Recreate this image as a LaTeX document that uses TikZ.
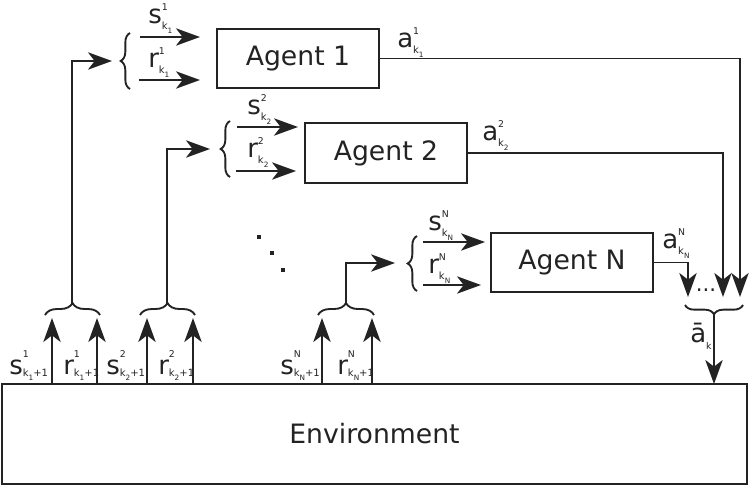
\documentclass[tikz,border=0pt]{standalone}
\usepackage{fontspec}
\setmainfont{DejaVu Sans}
\usetikzlibrary{arrows.meta,decorations.pathreplacing}
\newcommand\lb[3]{#1\rlap{\raisebox{0.48em}{\fontsize{7}{8}\selectfont #2}}\raisebox{-0.25em}{\fontsize{7.5}{8}\selectfont #3}}
\newcommand\lbb[3]{#1\rlap{\raisebox{0.62em}{\fontsize{7}{8}\selectfont #2}}\raisebox{-0.1em}{\fontsize{7.5}{8}\selectfont #3}}
\newcommand\kk[1]{k\raisebox{-0.35em}{\fontsize{5.5}{6}\selectfont #1}}
\definecolor{ink}{RGB}{35,35,35}
\tikzset{
  box/.style={draw=ink,line width=1.4pt,inner sep=0pt,font=\fontsize{20}{24}\selectfont,text=ink},
  lab/.style={anchor=base west,inner sep=0pt,font=\fontsize{19.5}{22}\selectfont,text=ink},
  ln/.style={draw=ink,line width=1.4pt},
  arr/.style={ln,-{Stealth[length=18pt,width=13pt,inset=5pt]}},
  brc/.style={ln,decorate,decoration={brace,amplitude=#1}},
  dotsq/.style={fill=ink,minimum size=3.5pt,inner sep=0pt}
}
\begin{document}
\begin{tikzpicture}[x=0.75pt,y=-0.75pt]
\path[use as bounding box] (0,0) rectangle (749,486);
% boxes
\node[box,minimum width=558.75pt,minimum height=75pt] (env) at (374.5,434) {Environment};
\node[box,minimum width=121.5pt,minimum height=44.25pt] (A1) at (298,58.5) {Agent 1};
\node[box,minimum width=121.5pt,minimum height=45pt] (A2) at (386,153) {Agent 2};
\node[box,minimum width=121.5pt,minimum height=44.25pt] (AN) at (572,262.5) {Agent N};
% coordinates
\coordinate (s1a) at (140,37); \coordinate (s1b) at (200,37);
\coordinate (r1a) at (139,80); \coordinate (r1b) at (200,80);
\coordinate (br1a) at (130,89); \coordinate (br1b) at (130,33);
\coordinate (in1) at (112,61);
\coordinate (s2a) at (237,127); \coordinate (s2b) at (298,127);
\coordinate (r2a) at (236,171); \coordinate (r2b) at (296,171);
\coordinate (br2a) at (230,177); \coordinate (br2b) at (230,121);
\coordinate (in2) at (210,149);
\coordinate (sNa) at (423,242); \coordinate (sNb) at (485,242);
\coordinate (rNa) at (423,285); \coordinate (rNb) at (481,285);
\coordinate (brNa) at (417,291); \coordinate (brNb) at (417,236);
\coordinate (inN) at (395,263);
% input arrows
\draw[arr] (s1a) -- (s1b); \draw[arr] (r1a) -- (r1b);
\draw[brc=7pt] (br1a) -- (br1b);
\draw[arr] (s2a) -- (s2b); \draw[arr] (r2a) -- (r2b);
\draw[brc=7pt] (br2a) -- (br2b);
\draw[arr] (sNa) -- (sNb); \draw[arr] (rNa) -- (rNb);
\draw[brc=7pt] (brNa) -- (brNb);
% bottom arrows from environment
\foreach \n/\x in {e1/52,e2/97,e3/147,e4/193,e5/322,e6/372}{
  \coordinate (\n a) at (\x,384); \coordinate (\n b) at (\x,318);
  \draw[arr] (\n a) -- (\n b);
}
\coordinate (b1a) at (45,315); \coordinate (b1b) at (100,315); \coordinate (t1) at (72,303);
\coordinate (b2a) at (140,315); \coordinate (b2b) at (195,315); \coordinate (t2) at (167,303);
\coordinate (b3a) at (318,315); \coordinate (b3b) at (374,315); \coordinate (t3) at (346,303);
\draw[brc=9pt] (b1a) -- (b1b);
\draw[brc=9pt] (b2a) -- (b2b);
\draw[brc=9pt] (b3a) -- (b3b);
\draw[arr] (t1) |- (in1);
\draw[arr] (t2) |- (in2);
\draw[arr] (t3) |- (inN);
% outputs
\coordinate (o1) at (740,297); \coordinate (o2) at (723,297); \coordinate (oN) at (688,297);
\draw[arr] (A1.east) -| (o1);
\draw[arr] (A2.east) -| (o2);
\draw[arr] (AN.east) -| (oN);
\node[lab,font=\fontsize{16}{18}\selectfont,anchor=base] (odots) at (706,291) {...};
\coordinate (bra) at (743,305); \coordinate (brb) at (685,305);
\draw[brc=7pt] (bra) -- (brb);
\coordinate (abt) at (714,314); \coordinate (abe) at (714,384);
\draw[arr] (abt) -- (abe);
% dots
\node[dotsq] (d1) at (259,237) {};
\node[dotsq] (d2) at (272,253) {};
\node[dotsq] (d3) at (283,270) {};
% labels top
\node[lab] (ls1) at (148,23) {\lb{s}{1}{\kk{1}}};
\node[lab] (lr1) at (148,67) {\lb{r}{1}{\kk{1}}};
\node[lab] (la1) at (397,47) {\lb{a}{1}{\kk{1}}};
\node[lab] (ls2) at (247,114) {\lb{s}{2}{\kk{2}}};
\node[lab] (lr2) at (247,157) {\lb{r}{2}{\kk{2}}};
\node[lab] (la2) at (482,140) {\lb{a}{2}{\kk{2}}};
\node[lab] (lsN) at (428,230) {\lb{s}{N}{\kk{N}}};
\node[lab] (lrN) at (428,273) {\lb{r}{N}{\kk{N}}};
\node[lab] (laN) at (662,248) {\lb{a}{N}{\kk{N}}};
% labels bottom
\node[lab] (bs1) at (9,374) {\lbb{s}{1}{\kk{1}+1}};
\node[lab] (br1) at (63,374) {\lbb{r}{1}{\kk{1}+1}};
\node[lab] (bs2) at (106,374) {\lbb{s}{2}{\kk{2}+1}};
\node[lab] (br2) at (158,374) {\lbb{r}{2}{\kk{2}+1}};
\node[lab] (bsN) at (280,374) {\lbb{s}{N}{\kk{N}+1}};
\node[lab] (brN) at (337,374) {\lbb{r}{N}{\kk{N}+1}};
\node[lab] (abar) at (690,342) {ā\raisebox{-0.3em}{\fontsize{7}{8}\selectfont k}};
\end{tikzpicture}
\end{document}
